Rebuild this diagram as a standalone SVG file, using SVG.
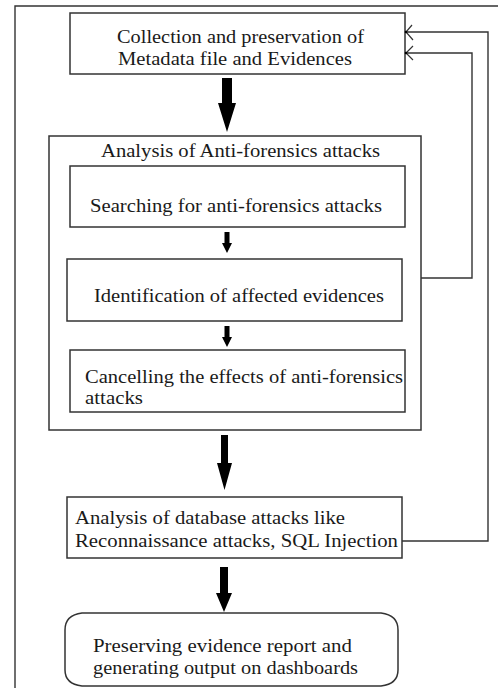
<svg xmlns="http://www.w3.org/2000/svg" width="498" height="688" viewBox="0 0 498 688">
  <style>
    .box { fill: #ffffff; stroke: #333333; stroke-width: 1.5; }
    .frame { fill: none; stroke: #333333; stroke-width: 1.4; }
    .wire { fill: none; stroke: #333333; stroke-width: 1.4; }
    .head { fill: none; stroke: #333333; stroke-width: 1.2; }
    .thick { fill: #000000; stroke: none; }
    .lbl { font-family: "Liberation Serif", "DejaVu Serif", "Times New Roman", serif; font-size: 18px; fill: #1a1a1a; }
  </style>

  <rect width="498" height="688" fill="#ffffff"/>

  <!-- page frame -->
  <path class="frame" d="M15 688 V6 H498"/>

  <g id="node-collection">
    <rect class="box" x="70" y="13" width="335" height="61"/>
    <text class="lbl" x="117" y="43" textLength="247" lengthAdjust="spacingAndGlyphs">Collection and preservation of</text>
    <text class="lbl" x="118" y="65" textLength="234" lengthAdjust="spacingAndGlyphs">Metadata file and Evidences</text>
  </g>

  <g id="node-antiforensics">
    <rect class="box" x="49" y="136" width="372" height="294"/>
    <text class="lbl" x="101" y="157" textLength="279" lengthAdjust="spacingAndGlyphs">Analysis of Anti-forensics attacks</text>
  </g>

  <g id="node-searching">
    <rect class="box" x="70" y="166" width="335" height="61"/>
    <text class="lbl" x="90" y="212" textLength="292" lengthAdjust="spacingAndGlyphs">Searching for anti-forensics attacks</text>
  </g>

  <g id="node-identification">
    <rect class="box" x="67" y="259" width="335" height="62"/>
    <text class="lbl" x="94" y="302" textLength="290" lengthAdjust="spacingAndGlyphs">Identification of affected evidences</text>
  </g>

  <g id="node-cancelling">
    <rect class="box" x="70" y="350" width="335" height="62"/>
    <text class="lbl" x="85" y="383" textLength="318" lengthAdjust="spacingAndGlyphs">Cancelling the effects of anti-forensics</text>
    <text class="lbl" x="85" y="404" textLength="58" lengthAdjust="spacingAndGlyphs">attacks</text>
  </g>

  <g id="node-database">
    <rect class="box" x="67" y="497" width="335" height="61"/>
    <text class="lbl" x="75" y="524" textLength="270" lengthAdjust="spacingAndGlyphs">Analysis of database attacks like</text>
    <text class="lbl" x="75" y="547" textLength="323" lengthAdjust="spacingAndGlyphs">Reconnaissance attacks, SQL Injection</text>
  </g>

  <g id="node-report">
    <path class="box" d="M82 613 H381 Q398 615 398 630 V670 Q398 684 381 686 H82 Q65 684 65 670 V630 Q65 615 82 613 Z"/>
    <text class="lbl" x="93" y="652" textLength="259" lengthAdjust="spacingAndGlyphs">Preserving evidence report and</text>
    <text class="lbl" x="93" y="674" textLength="265" lengthAdjust="spacingAndGlyphs">generating output on dashboards</text>
  </g>

  <g id="connectors">
    <!-- main flow, block arrows -->
    <polygon class="thick" points="222,78 232,78 232,103 236,103 227,132 218,103 222,103"/>
    <polygon class="thick" points="224.5,232 229.5,232 229.5,243 232,243 227,253 222,243 224.5,243"/>
    <polygon class="thick" points="224.5,326 229.5,326 229.5,337 232,337 227,347 222,337 224.5,337"/>
    <polygon class="thick" points="221,435 228,435 228,463 232,463 224.5,490 217,463 221,463"/>
    <polygon class="thick" points="220,567 228,567 228,593 232,593 224,612 216,593 220,593"/>

    <!-- feedback loops back to collection -->
    <path class="wire" d="M402 541 H488 V32 H406"/>
    <path class="wire" d="M421 278 H472 V53 H406"/>
    <path class="head" d="M412 25 L406 32 L413 40"/>
    <path class="head" d="M413 46 L406 53 L413 60"/>
    <circle cx="406" cy="32" r="1.3" fill="#000"/>
    <circle cx="406" cy="53" r="1.3" fill="#000"/>
  </g>
</svg>
